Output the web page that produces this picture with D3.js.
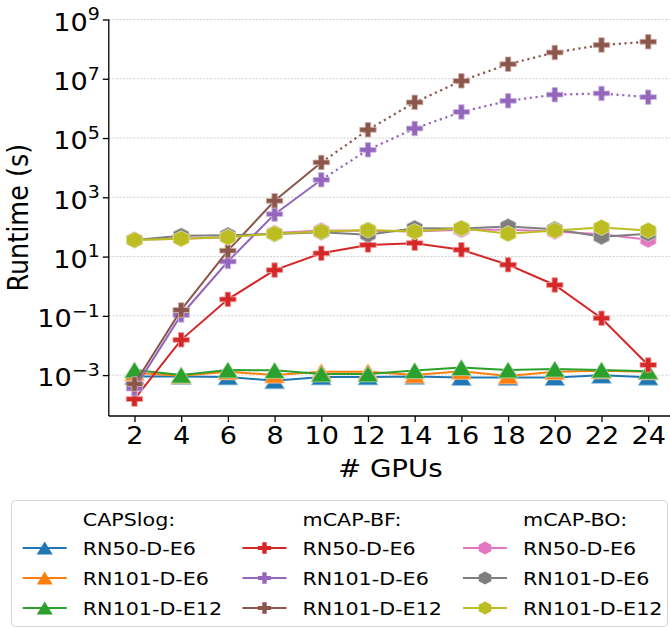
<!DOCTYPE html>
<html>
<head>
<meta charset="utf-8">
<script src="https://cdn.jsdelivr.net/npm/d3@7"></script>
<style>
  body { margin: 0; background: #fff; }
  text { font-family: "DejaVu Sans", sans-serif; fill: #000; }
</style>
</head>
<body>
<svg id="chart" width="670" height="629"></svg>
<script>
// ---- data: runtime in seconds per number of GPUs ----
const gpus = [2, 4, 6, 8, 10, 12, 14, 16, 18, 20, 22, 24];

const capsRN50E6   = [9.0e-4, 9.0e-4, 8.7e-4, 6.4e-4, 8.7e-4, 8.7e-4, 9.0e-4, 8.3e-4, 8.3e-4, 8.3e-4, 9.8e-4, 8.5e-4];
const capsRN101E6  = [1.2e-3, 9.5e-4, 1.3e-3, 1.0e-3, 1.3e-3, 1.3e-3, 1.0e-3, 1.35e-3, 9.4e-4, 1.3e-3, 1.4e-3, 1.3e-3];
const capsRN101E12 = [1.5e-3, 1.0e-3, 1.5e-3, 1.45e-3, 1.1e-3, 1.1e-3, 1.42e-3, 1.8e-3, 1.5e-3, 1.6e-3, 1.5e-3, 1.35e-3];

const bfRN50E6   = [1.55e-4, 1.55e-2, 0.36, 3.5, 12.9, 24.6, 28.3, 17, 5.3, 1.1, 0.083, 2.2e-3];
const bfRN101E6  = [3.5e-4, 0.107, 6.8, 270, 3.9e3, 4.0e4, 2.1e5, 7.6e5, 1.8e6, 2.9e6, 3.2e6, 2.4e6];
const bfRN101E12 = [5.0e-4, 0.158, 15.8, 760, 1.5e4, 1.9e5, 1.6e6, 8.5e6, 3.1e7, 7.7e7, 1.38e8, 1.78e8];
// mCAP-BF runs beyond this GPU count are projected (dotted)
const bfMeasuredUpTo = 10;

const boRN50E6   = [37, 40, 45, 62, 76, 75, 70, 80, 80, 70, 57, 37];
const boRN101E6  = [36, 50, 52, 58, 66, 55, 91, 88, 103, 84, 47, 59];
const boRN101E12 = [36, 40, 45, 59, 70, 79, 70, 91, 59, 76, 96, 76];

const yTickValues = [1e-3, 1e-1, 1e1, 1e3, 1e5, 1e7, 1e9];
const xTickValues = gpus;
const groupTitles = ["CAPSlog:", "mCAP-BF:", "mCAP-BO:"];
const modelLabels = ["RN50-D-E6", "RN101-D-E6", "RN101-D-E12"];

const series = [
  { group: 0, label: modelLabels[0], values: capsRN50E6,   color: "#1f77b4", marker: "tri" },
  { group: 0, label: modelLabels[1], values: capsRN101E6,  color: "#ff7f0e", marker: "tri" },
  { group: 0, label: modelLabels[2], values: capsRN101E12, color: "#2ca02c", marker: "tri" },
  { group: 1, label: modelLabels[0], values: bfRN50E6,     color: "#d62728", marker: "plus" },
  { group: 1, label: modelLabels[1], values: bfRN101E6,    color: "#9467bd", marker: "plus", split: bfMeasuredUpTo },
  { group: 1, label: modelLabels[2], values: bfRN101E12,   color: "#8c564b", marker: "plus", split: bfMeasuredUpTo },
  { group: 2, label: modelLabels[0], values: boRN50E6,     color: "#e377c2", marker: "hex" },
  { group: 2, label: modelLabels[1], values: boRN101E6,    color: "#7f7f7f", marker: "hex" },
  { group: 2, label: modelLabels[2], values: boRN101E12,   color: "#bcbd22", marker: "hex" }
];

// ---- layout ----
const W = 670, H = 629;
const plot = { left: 108.8, top: 19.5, bottom: 416 };
const pxPerGpu = 23.35;
const SX = 1.13;                 // horizontal glyph stretch of the figure
const TICK_FONT = 24, XLABEL_FONT = 24.5, YLABEL_FONT = 25.5, LEGEND_FONT = 18.3;

const svg = d3.select("#chart");
svg.append("rect").attr("width", W).attr("height", H).attr("fill", "#fff");

const x = d3.scaleLinear()
  .domain([0.9, 25.1])
  .range([plot.left, plot.left + 24.2 * pxPerGpu]);
const y = d3.scaleLog()
  .domain([Math.pow(10, -4.38), 1e9])
  .range([plot.bottom, plot.top]);

svg.append("clipPath").attr("id", "plotClip")
  .append("rect")
  .attr("x", plot.left).attr("y", plot.top - 1)
  .attr("width", W - plot.left).attr("height", plot.bottom - plot.top + 1);

// horizontal grid
svg.append("g")
  .selectAll("line").data(yTickValues).join("line")
  .attr("x1", plot.left).attr("x2", W)
  .attr("y1", d => y(d)).attr("y2", d => y(d))
  .attr("stroke", "#cfcfcf").attr("stroke-width", 1)
  .attr("stroke-dasharray", "2,1.5");

// marker shapes (centred on the data point)
function markerPath(type, s) {
  if (type === "tri") {
    const h = s, w = s * 1.1;
    return `M0,${-h / 2}L${w / 2},${h / 2}L${-w / 2},${h / 2}Z`;
  }
  if (type === "plus") {
    const a = s / 2, b = s / 6;
    return `M${-b},${-a}H${b}V${-b}H${a}V${b}H${b}V${a}H${-b}V${b}H${-a}V${-b}H${-b}Z`;
  }
  // hexagon, pointy top
  const r = s / 2;
  const pts = d3.range(6).map(i => {
    const ang = Math.PI / 2 + i * Math.PI / 3;
    return [r * Math.cos(ang), -r * Math.sin(ang)];
  });
  return "M" + pts.map(p => p.join(",")).join("L") + "Z";
}
const markerSize = { tri: 16, plus: 14.5, hex: 16 };

const line = d3.line().x(d => x(d[0])).y(d => y(d[1]));
const dataG = svg.append("g").attr("clip-path", "url(#plotClip)");

series.forEach(s => {
  const pts = gpus.map((g, i) => [g, s.values[i]]);
  const g = dataG.append("g");
  if (s.split !== undefined) {
    g.append("path").attr("d", line(pts.filter(p => p[0] <= s.split)))
      .attr("fill", "none").attr("stroke", s.color).attr("stroke-width", 2);
    g.append("path").attr("d", line(pts.filter(p => p[0] >= s.split)))
      .attr("fill", "none").attr("stroke", s.color).attr("stroke-width", 2.2)
      .attr("stroke-dasharray", "2.2,3.6");
  } else {
    g.append("path").attr("d", line(pts))
      .attr("fill", "none").attr("stroke", s.color).attr("stroke-width", 2);
  }
  const edge = d3.interpolateRgb(s.color, "#fff")(0.55);
  g.selectAll("path.mk").data(pts).join("path").attr("class", "mk")
    .attr("transform", d => `translate(${x(d[0])},${y(d[1])}) scale(${SX},1)`)
    .attr("d", markerPath(s.marker, markerSize[s.marker]))
    .attr("fill", s.color).attr("stroke", edge).attr("stroke-width", 0.8);
});

// axes
const xAxis = svg.append("g").attr("transform", `translate(0,${plot.bottom})`)
  .call(d3.axisBottom(x).tickValues(xTickValues).tickSize(6).tickPadding(5));
xAxis.select(".domain").attr("d", `M${plot.left},0H${W}`).attr("stroke-width", 1.3);
xAxis.selectAll(".tick line").attr("stroke-width", 1.3);
xAxis.selectAll(".tick text").attr("font-size", TICK_FONT).attr("font-family", "DejaVu Sans")
  .attr("transform", `scale(${SX},1)`);

const yAxis = svg.append("g").attr("transform", `translate(${plot.left},0)`)
  .call(d3.axisLeft(y).tickValues(yTickValues).tickSize(6).tickFormat(() => ""));
yAxis.select(".domain").attr("d", `M0,${plot.top}V${plot.bottom}`).attr("stroke-width", 1.3);
yAxis.selectAll(".tick line").attr("stroke-width", 1.3);
yAxis.selectAll(".tick").each(function (d) {
  const t = d3.select(this).append("text")
    .attr("transform", `translate(-9,0) scale(${SX},1)`).attr("text-anchor", "end")
    .attr("font-size", TICK_FONT).attr("font-family", "DejaVu Sans").attr("fill", "#000");
  t.append("tspan").attr("dy", "0.45em").text("10");
  t.append("tspan").attr("dy", "-0.62em").attr("font-size", TICK_FONT * 0.7)
    .text(String(Math.round(Math.log10(d))).replace("-", "\u2212"));
});

// axis titles
svg.append("text")
  .attr("transform", `translate(${(x(2) + x(24)) / 2 - 1},477) scale(${SX},1)`)
  .attr("text-anchor", "middle").attr("font-size", XLABEL_FONT).text("# GPUs");
svg.append("text")
  .attr("transform", `translate(27.5,${(plot.top + plot.bottom) / 2}) scale(${SX},1) rotate(-90)`)
  .attr("text-anchor", "middle").attr("font-size", YLABEL_FONT).text("Runtime (s)");

// legend: one column per method, a title row then one row per model
const legend = svg.append("g");
legend.append("rect")
  .attr("x", 11.5).attr("y", 500.5).attr("width", 656).attr("height", 126)
  .attr("rx", 4).attr("fill", "#fff").attr("stroke", "#d6d6d6").attr("stroke-width", 1);
const colX = [22.7, 242.5, 463];
const rowY = [519, 548, 578, 608];
groupTitles.forEach((t, c) => {
  legend.append("text")
    .attr("transform", `translate(${colX[c] + 60},${rowY[0]}) scale(${SX},1)`)
    .attr("dy", "0.36em").attr("font-size", LEGEND_FONT).text(t);
});
series.forEach((s, i) => {
  const c = s.group, r = 1 + (i % 3);
  const g = legend.append("g").attr("transform", `translate(${colX[c]},${rowY[r]})`);
  g.append("line").attr("x1", 0).attr("x2", 44).attr("stroke", s.color).attr("stroke-width", 2);
  g.append("path").attr("transform", `translate(22,0) scale(${SX},1)`)
    .attr("d", markerPath(s.marker, markerSize[s.marker] * 0.8)).attr("fill", s.color);
  g.append("text").attr("transform", `translate(60,0) scale(${SX},1)`)
    .attr("dy", "0.36em").attr("font-size", LEGEND_FONT).text(s.label);
});
</script>
</body>
</html>
